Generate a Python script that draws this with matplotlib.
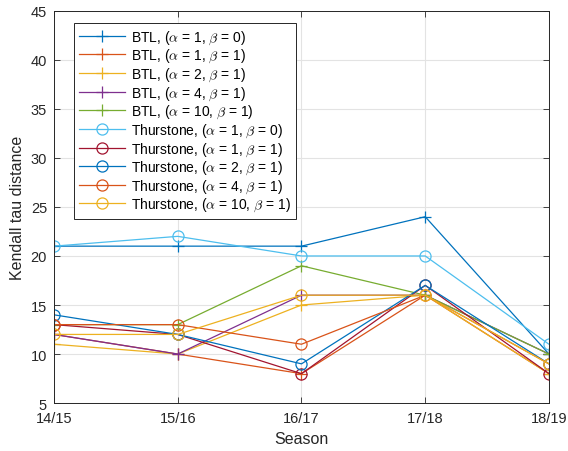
import matplotlib
matplotlib.use('Agg')
import matplotlib.pyplot as plt

plt.rcParams['font.family'] = ['Liberation Sans', 'DejaVu Sans']
plt.rcParams['mathtext.fontset'] = 'cm'

seasons = ['14/15', '15/16', '16/17', '17/18', '18/19']

btl_1_0 = [21, 21, 21, 24, 10]
btl_1_1 = [12, 10, 8, 16, 8]
btl_2_1 = [11, 10, 15, 16, 8]
btl_4_1 = [12, 10, 16, 16, 10]
btl_10_1 = [13, 13, 19, 16, 10]

thu_1_0 = [21, 22, 20, 20, 11]
thu_1_1 = [13, 12, 8, 17, 8]
thu_2_1 = [14, 12, 9, 17, 9]
thu_4_1 = [13, 13, 11, 16, 9]
thu_10_1 = [12, 12, 16, 16, 9]

series = [
    (btl_1_0, 'BTL', 1, 0), (btl_1_1, 'BTL', 1, 1), (btl_2_1, 'BTL', 2, 1),
    (btl_4_1, 'BTL', 4, 1), (btl_10_1, 'BTL', 10, 1),
    (thu_1_0, 'Thurstone', 1, 0), (thu_1_1, 'Thurstone', 1, 1),
    (thu_2_1, 'Thurstone', 2, 1), (thu_4_1, 'Thurstone', 4, 1),
    (thu_10_1, 'Thurstone', 10, 1),
]
# cores padrão do matlab
cores = ['#0072BD', '#D95319', '#EDB120', '#7E2F8E', '#77AC30',
         '#4DBEEE', '#A2142F', '#0072BD', '#D95319', '#EDB120']

fig = plt.figure(figsize=(5.68, 4.52), dpi=100)
ax = fig.add_axes([0.095, 0.106, 0.8715, 0.868])

x = list(range(len(seasons)))
for (vals, nome, a, b), cor in zip(series, cores):
    marker = '+' if nome == 'BTL' else 'o'
    ax.plot(x, vals, color=cor, lw=0.9, marker=marker, markersize=8,
            markerfacecolor='none', markeredgewidth=0.9,
            label=f'{nome}, ($\\alpha$ = {a}, $\\beta$ = {b})')

ax.set_xlim(0, 4)
ax.set_ylim(5, 45)
ax.set_xticks(x)
ax.set_xticklabels(seasons)
ax.set_yticks(range(5, 46, 5))
ax.grid(True, color='#e3e3e3', lw=0.8)
ax.set_axisbelow(True)
ax.tick_params(direction='in', length=4, width=0.6, colors='#262626',
               labelsize=10.5, top=True, right=True)
ax.tick_params(axis='x', pad=6)
ax.tick_params(axis='y', pad=5)
for s in ax.spines.values():
    s.set_color('#262626')
    s.set_linewidth(0.7)
ax.set_xlabel('Season', fontsize=11.5, color='#262626', labelpad=4)
ax.set_ylabel('Kendall tau distance', fontsize=11.5, color='#262626',
              labelpad=4)

leg = ax.legend(loc='upper left', bbox_to_anchor=(0.04, 0.969),
                fontsize=10, frameon=True, fancybox=False, framealpha=1,
                edgecolor='#262626', handlelength=3.3, labelspacing=0.09,
                borderpad=0.4, handletextpad=0.4, borderaxespad=0)
leg.get_frame().set_linewidth(0.7)

fig.savefig('out.png', dpi=100)
